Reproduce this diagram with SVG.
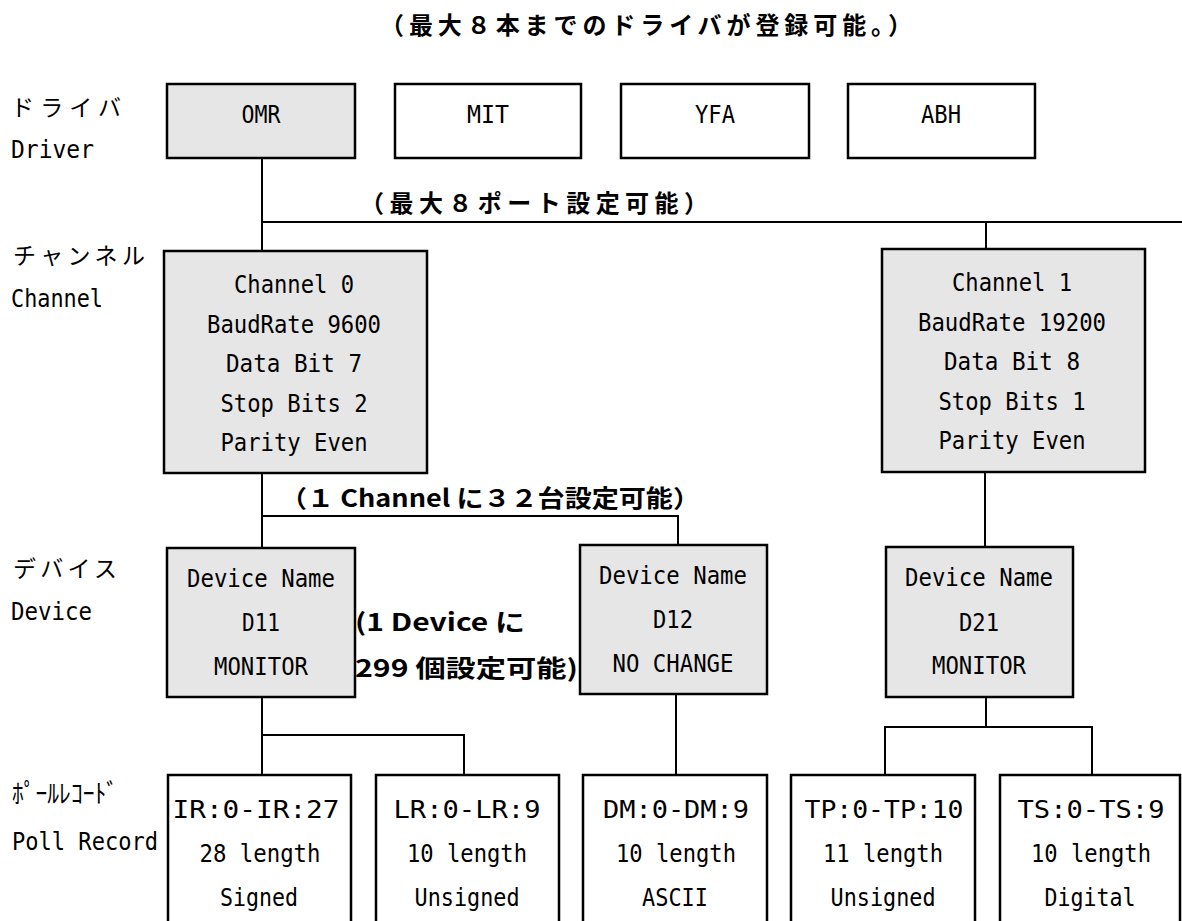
<svg xmlns="http://www.w3.org/2000/svg" width="1182" height="921" viewBox="0 0 1182 921">
<style>
.bg{fill:#ffffff}
.g{fill:#e6e6e6;stroke:#000;stroke-width:2.5}
.w{fill:#ffffff;stroke:#000;stroke-width:2.5}
.ln{fill:none;stroke:#000;stroke-width:2}
.t{font-family:"DejaVu Sans Mono","Liberation Mono",monospace;font-size:24px;fill:#000;text-anchor:middle}
.lt{font-family:"DejaVu Sans Mono","Liberation Mono",monospace;font-size:24px;fill:#000}
.jp{font-family:"Noto Sans CJK JP",sans-serif;font-size:23px;fill:#000}
.b{font-family:"Noto Sans CJK JP",sans-serif;font-size:24px;font-weight:bold;fill:#000}
</style>
<rect class="bg" x="0" y="0" width="1182" height="921"/>

<g id="labels">
<text class="b" x="380" y="34" textLength="532" lengthAdjust="spacing">（最大８本までのドライバが登録可能。）</text>
<text class="b" x="360" y="212" textLength="348" lengthAdjust="spacing">（最大８ポート設定可能）</text>
<text class="b" x="280" y="507" textLength="420" lengthAdjust="spacingAndGlyphs">（１ Channel に３２台設定可能）</text>
<text class="b" x="355" y="631" textLength="170" lengthAdjust="spacingAndGlyphs">(1 Device に</text>
<text class="b" x="355" y="677" textLength="223" lengthAdjust="spacingAndGlyphs">299 個設定可能)</text>
<text class="jp" x="11" y="116" textLength="110" lengthAdjust="spacing">ドライバ</text>
<text class="lt" x="11" y="158" textLength="83" lengthAdjust="spacingAndGlyphs">Driver</text>
<text class="jp" x="13" y="264" textLength="132" lengthAdjust="spacing">チャンネル</text>
<text class="lt" x="11" y="307" textLength="92" lengthAdjust="spacingAndGlyphs">Channel</text>
<text class="jp" x="13" y="577" textLength="104" lengthAdjust="spacing">デバイス</text>
<text class="lt" x="11" y="620" textLength="81" lengthAdjust="spacingAndGlyphs">Device</text>
<text class="jp" x="12" y="803" textLength="106" lengthAdjust="spacingAndGlyphs" style="font-size:26px">ﾎﾟｰﾙﾚｺｰﾄﾞ</text>
<text class="lt" x="12" y="850" textLength="146" lengthAdjust="spacingAndGlyphs">Poll Record</text>
</g>

<g id="connectors">
<polyline class="ln" points="262,158 262,250"/>
<polyline class="ln" points="262,222 1182,222"/>
<polyline class="ln" points="986,222 986,249"/>
<polyline class="ln" points="262,473 262,548"/>
<polyline class="ln" points="262,516 678,516 678,545"/>
<polyline class="ln" points="985,472 985,547"/>
<polyline class="ln" points="262,697 262,775"/>
<polyline class="ln" points="262,735 464,735 464,775"/>
<polyline class="ln" points="676,694 676,775"/>
<polyline class="ln" points="986,697 986,727"/>
<polyline class="ln" points="885,775 885,727 1092,727 1092,775"/>
</g>

<g id="driver-omr"><rect class="g" x="167" y="84" width="188" height="74"/><text class="t" x="261" y="123" textLength="39" lengthAdjust="spacingAndGlyphs">OMR</text></g>
<g id="driver-mit"><rect class="w" x="395" y="84" width="186" height="74"/><text class="t" x="488" y="123" textLength="42" lengthAdjust="spacingAndGlyphs">MIT</text></g>
<g id="driver-yfa"><rect class="w" x="621" y="84" width="188" height="74"/><text class="t" x="715" y="123" textLength="40" lengthAdjust="spacingAndGlyphs">YFA</text></g>
<g id="driver-abh"><rect class="w" x="848" y="84" width="187" height="74"/><text class="t" x="941" y="123" textLength="40" lengthAdjust="spacingAndGlyphs">ABH</text></g>

<g id="channel-0">
<rect class="g" x="164" y="251" width="263" height="222"/>
<text class="t" x="294" y="293" textLength="120" lengthAdjust="spacingAndGlyphs">Channel 0</text>
<text class="t" x="294" y="333" textLength="174" lengthAdjust="spacingAndGlyphs">BaudRate 9600</text>
<text class="t" x="294" y="372" textLength="136" lengthAdjust="spacingAndGlyphs">Data Bit 7</text>
<text class="t" x="294" y="412" textLength="147" lengthAdjust="spacingAndGlyphs">Stop Bits 2</text>
<text class="t" x="294" y="451" textLength="147" lengthAdjust="spacingAndGlyphs">Parity Even</text>
</g>
<g id="channel-1">
<rect class="g" x="882" y="249" width="263" height="223"/>
<text class="t" x="1012" y="291" textLength="120" lengthAdjust="spacingAndGlyphs">Channel 1</text>
<text class="t" x="1012" y="331" textLength="188" lengthAdjust="spacingAndGlyphs">BaudRate 19200</text>
<text class="t" x="1012" y="370" textLength="136" lengthAdjust="spacingAndGlyphs">Data Bit 8</text>
<text class="t" x="1012" y="410" textLength="147" lengthAdjust="spacingAndGlyphs">Stop Bits 1</text>
<text class="t" x="1012" y="449" textLength="147" lengthAdjust="spacingAndGlyphs">Parity Even</text>
</g>

<g id="device-d11">
<rect class="g" x="167" y="548" width="188" height="149"/>
<text class="t" x="261" y="587" textLength="148" lengthAdjust="spacingAndGlyphs">Device Name</text>
<text class="t" x="261" y="631" textLength="38" lengthAdjust="spacingAndGlyphs">D11</text>
<text class="t" x="261" y="675" textLength="94" lengthAdjust="spacingAndGlyphs">MONITOR</text>
</g>
<g id="device-d12">
<rect class="g" x="580" y="545" width="187" height="149"/>
<text class="t" x="673" y="584" textLength="148" lengthAdjust="spacingAndGlyphs">Device Name</text>
<text class="t" x="673" y="628" textLength="40" lengthAdjust="spacingAndGlyphs">D12</text>
<text class="t" x="673" y="672" textLength="121" lengthAdjust="spacingAndGlyphs">NO CHANGE</text>
</g>
<g id="device-d21">
<rect class="g" x="886" y="547" width="187" height="150"/>
<text class="t" x="979" y="586" textLength="148" lengthAdjust="spacingAndGlyphs">Device Name</text>
<text class="t" x="979" y="631" textLength="40" lengthAdjust="spacingAndGlyphs">D21</text>
<text class="t" x="979" y="674" textLength="94" lengthAdjust="spacingAndGlyphs">MONITOR</text>
</g>

<g id="poll-ir">
<rect class="w" x="168" y="775" width="183" height="170"/>
<text class="t" x="256" y="818" textLength="167" lengthAdjust="spacingAndGlyphs">IR:0-IR:27</text>
<text class="t" x="260" y="862" textLength="121" lengthAdjust="spacingAndGlyphs">28 length</text>
<text class="t" x="259" y="906" textLength="78" lengthAdjust="spacingAndGlyphs">Signed</text>
</g>
<g id="poll-lr">
<rect class="w" x="376" y="775" width="183" height="170"/>
<text class="t" x="467" y="818" textLength="147" lengthAdjust="spacingAndGlyphs">LR:0-LR:9</text>
<text class="t" x="467" y="862" textLength="120" lengthAdjust="spacingAndGlyphs">10 length</text>
<text class="t" x="467" y="906" textLength="105" lengthAdjust="spacingAndGlyphs">Unsigned</text>
</g>
<g id="poll-dm">
<rect class="w" x="583" y="775" width="184" height="170"/>
<text class="t" x="676" y="818" textLength="146" lengthAdjust="spacingAndGlyphs">DM:0-DM:9</text>
<text class="t" x="676" y="862" textLength="120" lengthAdjust="spacingAndGlyphs">10 length</text>
<text class="t" x="675" y="906" textLength="66" lengthAdjust="spacingAndGlyphs">ASCII</text>
</g>
<g id="poll-tp">
<rect class="w" x="791" y="775" width="184" height="170"/>
<text class="t" x="884" y="818" textLength="159" lengthAdjust="spacingAndGlyphs">TP:0-TP:10</text>
<text class="t" x="883" y="862" textLength="120" lengthAdjust="spacingAndGlyphs">11 length</text>
<text class="t" x="883" y="906" textLength="105" lengthAdjust="spacingAndGlyphs">Unsigned</text>
</g>
<g id="poll-ts">
<rect class="w" x="1000" y="775" width="180" height="170"/>
<text class="t" x="1091" y="818" textLength="147" lengthAdjust="spacingAndGlyphs">TS:0-TS:9</text>
<text class="t" x="1091" y="862" textLength="120" lengthAdjust="spacingAndGlyphs">10 length</text>
<text class="t" x="1090" y="906" textLength="91" lengthAdjust="spacingAndGlyphs">Digital</text>
</g>
</svg>
